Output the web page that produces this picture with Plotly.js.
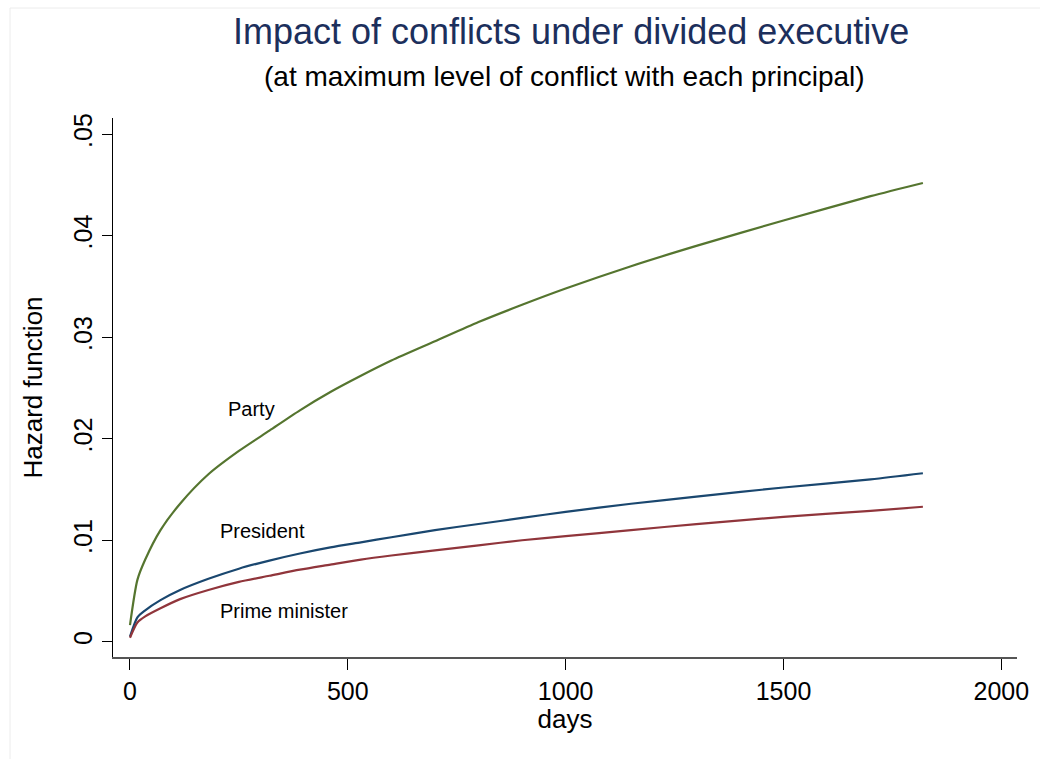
<!DOCTYPE html>
<html>
<head>
<meta charset="utf-8">
<script src="https://cdn.plot.ly/plotly-3.0.1.min.js"></script>
<style>html,body{margin:0;padding:0;background:#fff;}#chart{width:1040px;height:759px;}</style>
</head>
<body>
<div id="chart"></div>
<script>
// Data
const days = [0, 17, 35, 70, 115, 180, 250, 320, 390, 460, 530, 600, 700, 800, 900, 1000, 1150, 1300, 1500, 1700, 1820];
const party = [0.00165, 0.0061, 0.0081, 0.0110, 0.0136, 0.0165, 0.0188, 0.0208, 0.0228, 0.0246, 0.0262, 0.0277, 0.0296, 0.0315, 0.0332, 0.0348, 0.0370, 0.0390, 0.0415, 0.0439, 0.0452];
const president = [0.0005, 0.0024, 0.0031, 0.0041, 0.0051, 0.0062, 0.0072, 0.0080, 0.0087, 0.0093, 0.0098, 0.0103, 0.0110, 0.0116, 0.0122, 0.0128, 0.0136, 0.0143, 0.0152, 0.0160, 0.0166];
const primeMinister = [0.0004, 0.0019, 0.0025, 0.0033, 0.0042, 0.0051, 0.0059, 0.0065, 0.0071, 0.0076, 0.0081, 0.0085, 0.0090, 0.0095, 0.0100, 0.0104, 0.0110, 0.0116, 0.0123, 0.0129, 0.0133];

const seriesNames = ["Party", "President", "Prime minister"];
const labelDays = [278, 303, 353];
const labelValues = [0.0229, 0.0109, 0.0030];

const yTickVals = [0, 0.01, 0.02, 0.03, 0.04, 0.05];
const yTickText = ["0", ".01", ".02", ".03", ".04", ".05"];
const xTickVals = [0, 500, 1000, 1500, 2000];

const colors = ["#55752f", "#1a476f", "#90353b"];
const font = "Liberation Sans, Arial, Helvetica, sans-serif";

const traces = [party, president, primeMinister].map((vals, i) => ({
  x: days, y: vals, type: "scatter", mode: "lines", name: seriesNames[i],
  line: {color: colors[i], width: 2.2, shape: "spline", smoothing: 0.7}, hoverinfo: "skip"
}));

const annotations = seriesNames.map((n, i) => ({
  x: labelDays[i], y: labelValues[i], xref: "x", yref: "y", text: n,
  showarrow: false, font: {family: font, size: 20, color: "#000"},
  xanchor: "center", yanchor: "middle"
}));
annotations.push({
  x: 0.507, y: 1.1596, xref: "paper", yref: "paper",
  text: "Impact of conflicts under divided executive", showarrow: false,
  font: {family: font, size: 36, color: "#1c2f5c"}, xanchor: "center", yanchor: "middle"
});
annotations.push({
  x: 0.4995, y: 1.0779, xref: "paper", yref: "paper",
  text: "(at maximum level of conflict with each principal)", showarrow: false,
  font: {family: font, size: 28, color: "#000"}, xanchor: "center", yanchor: "middle"
});

const layout = {
  width: 1040, height: 759,
  margin: {l: 113, r: 23, t: 118, b: 102, pad: 0},
  paper_bgcolor: "#fff", plot_bgcolor: "#fff",
  showlegend: false,
  font: {family: font, color: "#000"},
  xaxis: {
    range: [-39, 2036], tickvals: xTickVals, ticks: "outside", ticklen: 11, tickwidth: 1,
    tickcolor: "#000", showline: true, linecolor: "#555", linewidth: 1.5,
    showgrid: false, zeroline: false, tickfont: {family: font, size: 25, color: "#000"},
    title: {text: "days", font: {family: font, size: 26, color: "#000"}, standoff: 6}
  },
  yaxis: {
    range: [-0.0015, 0.0516], tickvals: yTickVals, ticktext: yTickText, ticks: "outside",
    ticklen: 10, tickwidth: 1, tickcolor: "#000", tickangle: -90,
    showline: true, linecolor: "#000", linewidth: 1.5, showgrid: false, zeroline: false,
    tickfont: {family: font, size: 25, color: "#000"},
    title: {text: "Hazard function", font: {family: font, size: 26, color: "#000"}, standoff: 18}
  },
  annotations: annotations,
  shapes: [{
    type: "rect", xref: "paper", yref: "paper", layer: "below",
    x0: -103 / 904, x1: 1.2, y0: -0.3, y1: (657 - 8) / 539,
    line: {color: "#ececec", width: 1}, fillcolor: "rgba(0,0,0,0)"
  }]
};

Plotly.newPlot("chart", traces, layout, {staticPlot: true, displayModeBar: false});
</script>
</body>
</html>
